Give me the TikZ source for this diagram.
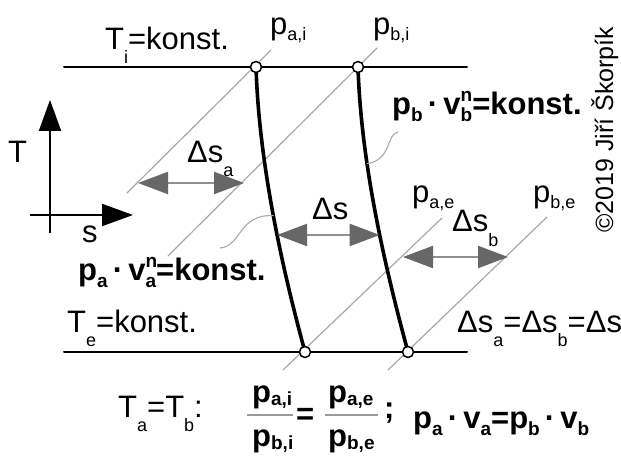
\documentclass[tikz,border=0pt]{standalone}
\usepackage{fontspec}
\setmainfont{Liberation Sans}
\usetikzlibrary{arrows.meta,calc}
\definecolor{ink}{HTML}{000000}
\definecolor{isogray}{HTML}{A8A8A8}
\definecolor{shaftgray}{HTML}{909090}
\definecolor{headgray}{HTML}{676767}
\definecolor{bargray}{HTML}{9A9A9A}

\newcommand{\lblsize}{\fontsize{31}{36}\selectfont}
\newcommand{\subr}[1]{\raisebox{-14pt}{\fontsize{18}{20}\selectfont #1}}
\newcommand{\subp}[1]{\raisebox{-6pt}{\fontsize{18}{20}\selectfont #1}}
\newcommand{\subb}[1]{\raisebox{-7pt}{\fontsize{19}{20}\selectfont\bfseries #1}}
\newcommand{\subf}[1]{\raisebox{-3pt}{\fontsize{19}{20}\selectfont\bfseries #1}}
\newcommand{\subsupb}[2]{\makebox[0pt][l]{\raisebox{13pt}{\fontsize{19}{20}\selectfont\bfseries #2}}\raisebox{-7pt}{\fontsize{19}{20}\selectfont\bfseries #1}}

\begin{document}
\begin{tikzpicture}[
  x=1pt,y=-1pt,draw=ink,text=ink,
  line cap=round,line join=round,
  isotherm/.style={line width=2pt},
  isobar/.style={draw=isogray,line width=1.2pt},
  process/.style={line width=3.6pt},
  state/.style={draw,circle,fill=white,line width=1.5pt,minimum size=11pt,inner sep=0pt},
  gap/.style={draw=shaftgray,line width=2.2pt,line cap=butt,
    >={Triangle[length=30pt,width=22pt,color=headgray]},<->},
  axis/.style={line width=2pt,line cap=butt,-{Triangle[length=31pt,width=22pt]}},
  leader/.style={draw=isogray,line width=1.1pt},
  fracbar/.style={draw=bargray,line width=2.6pt,line cap=butt},
  lbl/.style={anchor=base west,inner sep=0pt,font=\lblsize},
  blbl/.style={lbl,font=\lblsize\bfseries}
]
\useasboundingbox (0,0) rectangle (621,457);

% States on the two isotherms.
\coordinate (a1) at (256,67);
\coordinate (b1) at (358,67);
\coordinate (a2) at (305,352);
\coordinate (b2) at (408,352);
\coordinate (ti0) at (64,67);
\coordinate (ti1) at (467,67);
\coordinate (te0) at (64,352);
\coordinate (te1) at (467,352);

\draw[isotherm] (ti0) -- (ti1);
\draw[isotherm] (te0) -- (te1);

% Isobars through each state.
\draw[isobar] ($(a1)+(-129,126)$) -- ($(a1)+(15,-17)$);
\draw[isobar] ($(b1)+(-190,189)$) -- ($(b1)+(19,-19)$);
\draw[isobar] ($(a2)+(-22,18)$) -- ($(a2)+(137,-134)$);
\draw[isobar] ($(b2)+(-20,18)$) -- ($(b2)+(139,-135)$);

% Polytropic changes a and b.
\draw[process] (a1) .. controls (259,160) and (280,260) .. (a2)
  coordinate[pos=0.52] (la) coordinate[pos=0.587] (da);
\draw[process] (b1) .. controls (361,160) and (383,260) .. (b2)
  coordinate[pos=0.34] (lb) coordinate[pos=0.587] (db);

% Entropy differences.
\coordinate (sa0) at (138,183);
\coordinate (sa1) at (244,183);
\coordinate (sb0) at (403,257);
\coordinate (sb1) at (508,257);
\draw[gap] (sa0) -- (sa1);
\draw[gap] (da) -- (db);
\draw[gap] (sb0) -- (sb1);

% Leaders from the polytrope labels.
\coordinate (lbtip) at (398,132);
\coordinate (latip) at (220,248);
\draw[leader] (lbtip) .. controls (386,134) and (392,160) .. (lb);
\draw[leader] (latip) .. controls (242,246) and (238,214) .. (la);

% T-s axes.
\coordinate (tbot) at (50,233);
\coordinate (ttop) at (50,100);
\coordinate (sl) at (30,215);
\coordinate (sr) at (133,215);
\draw[axis] (tbot) -- (ttop);
\draw[axis] (sl) -- (sr);

\foreach \p in {a1,b1,a2,b2}
  \node[state] at (\p) {};

% Labels.
\node[lbl] (Ti) at (105,50) {T\subr{i}=konst.};
\node[lbl] (pai) at (270,35) {p\subp{a,i}};
\node[lbl] (pbi) at (373,35) {p\subp{b,i}};
\node[blbl] (polyb) at (392,115) {p\subb{b}\,·\,v\subsupb{b}{n}=konst.};
\node[lbl] (Tlab) at (8,163) {T};
\node[lbl] (slab) at (82,242) {s};
\node[lbl] (dsa) at (187,163) {Δs\subr{a}};
\node[lbl] (ds) at (312,220) {Δs};
\node[lbl] (pae) at (412,203) {p\subp{a,e}};
\node[lbl] (pbe) at (533,203) {p\subp{b,e}};
\node[lbl] (dsb) at (452,232) {Δs\subr{b}};
\node[blbl] (polya) at (78,280) {p\subb{a}\,·\,v\subsupb{a}{n}=konst.};
\node[lbl] (Te) at (67,332) {T\subr{e}=konst.};
\node[lbl] (dsall) at (457,332) {Δs\subr{a}=Δs\subr{b}=Δs};

% Pressure ratios.
\node[lbl] (Tab) at (118,417) {T\subr{a}=T\subr{b}:};
\node[blbl] (numa) at (252,402) {p\subf{a,i}};
\node[blbl] (dena) at (252,446) {p\subf{b,i}};
\node[blbl] (eqf) at (296,424) {=};
\node[blbl] (nume) at (328,402) {p\subf{a,e}};
\node[blbl] (dene) at (328,446) {p\subf{b,e}};
\node[blbl] (semi) at (384,418) {;};
\coordinate (bar0) at (247,415);
\coordinate (bar1) at (293,415);
\coordinate (bar2) at (325,415);
\coordinate (bar3) at (378,415);
\draw[fracbar] (bar0) -- (bar1);
\draw[fracbar] (bar2) -- (bar3);
\node[blbl] (pveq) at (413,428) {p\subb{a}\,·\,v\subb{a}=p\subb{b}\,·\,v\subb{b}};

\node[lbl,font=\fontsize{25}{28}\selectfont,rotate=90] (copy) at (613,233) {©2019 Jiří Škorpík};

\end{tikzpicture}
\end{document}
